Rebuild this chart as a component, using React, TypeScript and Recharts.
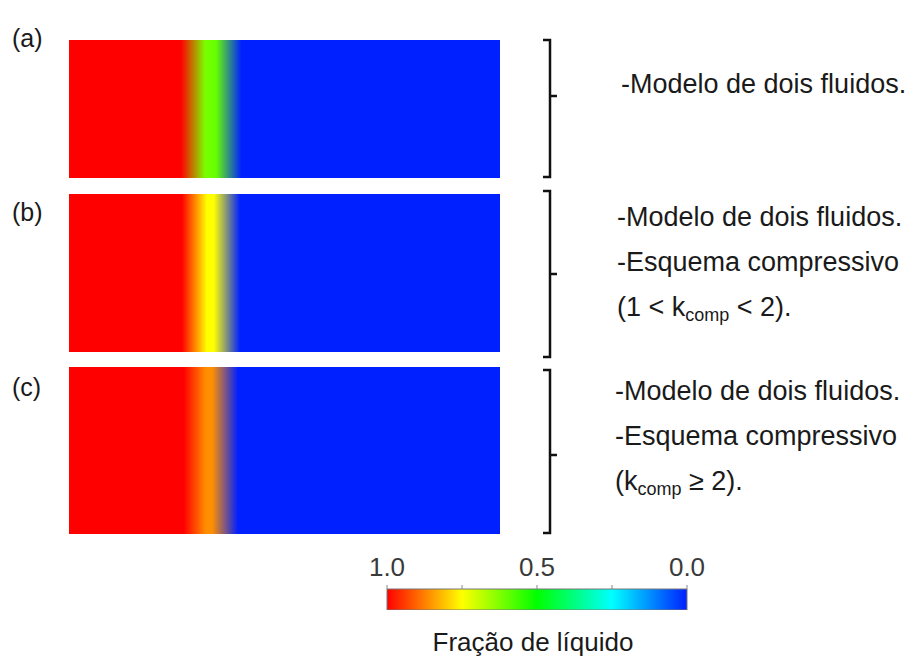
import React from 'react';
import { AreaChart, Area, XAxis, YAxis, ReferenceArea } from 'recharts';

const FONT = '"Liberation Sans", Arial, Helvetica, sans-serif';

// escala de cores da fração de líquido (1.0 = líquido, 0.0 = gás)
const colormapValues = [1.0, 0.75, 0.5, 0.25, 0.0];
const colormapColors = ['#ff0000', '#ffff00', '#00ff00', '#00ffff', '#0020ff'];
const colorbarTicks = [1.0, 0.75, 0.5, 0.25, 0.0];
const colorbarLabeled = [1.0, 0.5, 0.0];

// perfil de fração de líquido ao longo do canal (posição relativa 0..1)
const positionsA = [0, 0.26, 0.316, 0.341, 0.4, 1];
const alphaA = [1, 1, 0.62, 0.6, 0, 0];
const positionsB = [0, 0.262, 0.32, 0.336, 0.397, 1];
const alphaB = [1, 1, 0.75, 0.75, 0, 0];
const positionsC = [0, 0.266, 0.318, 0.332, 0.392, 1];
const alphaC = [1, 1, 0.86, 0.86, 0, 0];

const panelLabels = ['(a)', '(b)', '(c)'];
const notesA = ['-Modelo de dois fluidos.'];
const notesB = ['-Modelo de dois fluidos.', '-Esquema compressivo'];
const notesC = ['-Modelo de dois fluidos.', '-Esquema compressivo'];
const colorbarTitle = 'Fração de líquido';

function hexToRgb(h: string) {
  return [1, 3, 5].map((i) => parseInt(h.slice(i, i + 2), 16));
}

function alphaColor(a: number) {
  // interpola linearmente entre as cores da escala
  for (let i = 0; i < colormapValues.length - 1; i++) {
    const hi = colormapValues[i];
    const lo = colormapValues[i + 1];
    if (a <= hi && a >= lo) {
      const t = (hi - a) / (hi - lo);
      const c1 = hexToRgb(colormapColors[i]);
      const c2 = hexToRgb(colormapColors[i + 1]);
      const c = c1.map((v, k) => Math.round(v + (c2[k] - v) * t));
      return `rgb(${c[0]},${c[1]},${c[2]})`;
    }
  }
  return colormapColors[colormapColors.length - 1];
}

function FieldPanel({ id, positions, alphas, top, height }: any) {
  const data = positions.map((x: number, i: number) => ({ x, alpha: alphas[i], full: 1 }));
  return (
    <div style={{ position: 'absolute', left: 69, top }}>
      <AreaChart width={431} height={height} data={data} margin={{ top: 0, right: 0, bottom: 0, left: 0 }}>
        <defs>
          <linearGradient id={`field-${id}`} x1="0" y1="0" x2="1" y2="0">
            {data.map((d: any, i: number) => (
              <stop key={i} offset={d.x} stopColor={alphaColor(d.alpha)} />
            ))}
          </linearGradient>
        </defs>
        <XAxis dataKey="x" type="number" domain={[0, 1]} hide />
        <YAxis domain={[0, 1]} hide />
        <Area
          dataKey="full"
          type="linear"
          stroke="none"
          fill={`url(#field-${id})`}
          fillOpacity={1}
          dot={false}
          activeDot={false}
          isAnimationActive={false}
        />
      </AreaChart>
    </div>
  );
}

function Colorbar() {
  const data = colormapValues.map((v) => ({ v, full: 1 }));
  return (
    <div style={{ position: 'absolute', left: 337, top: 530 }}>
      <AreaChart width={400} height={80} data={data} margin={{ top: 0, right: 50, bottom: 0, left: 50 }}>
        <defs>
          <linearGradient id="colorbar" x1="0" y1="0" x2="1" y2="0">
            {colormapValues.map((v, i) => (
              <stop key={i} offset={1 - v} stopColor={colormapColors[i]} />
            ))}
          </linearGradient>
        </defs>
        <XAxis
          dataKey="v"
          type="number"
          domain={[0, 1]}
          reversed
          orientation="top"
          height={59}
          ticks={colorbarTicks}
          interval={0}
          tickSize={4}
          tickMargin={9}
          axisLine={false}
          tickLine={{ stroke: '#888', strokeWidth: 1 }}
          tick={{ fill: '#3a3a3a', fontSize: 26, fontFamily: FONT }}
          tickFormatter={(v: number) => (colorbarLabeled.includes(v) ? v.toFixed(1) : '')}
        />
        <YAxis domain={[0, 1]} hide />
        <Area
          dataKey="full"
          type="linear"
          stroke="none"
          fill="url(#colorbar)"
          fillOpacity={1}
          dot={false}
          activeDot={false}
          isAnimationActive={false}
        />
        <ReferenceArea x1={1} x2={0} y1={0} y2={1} fill="none" stroke="#777" strokeWidth={1} />
      </AreaChart>
    </div>
  );
}

function Brace({ top, bottom, mid }: { top: number; bottom: number; mid: number }) {
  return (
    <path
      d={`M543,${top} H550 V${bottom} H543 M550,${mid} H557`}
      fill="none"
      stroke="#111"
      strokeWidth={2.5}
    />
  );
}

export default function App() {
  const textStyle = { fontFamily: FONT, fontSize: 27, fill: '#1a1a1a' };
  const labelStyle = { fontFamily: FONT, fontSize: 25, fill: '#1a1a1a' };
  return (
    <div style={{ position: 'absolute', left: 0, top: 0, width: 909, height: 656, background: '#fff' }}>
      <FieldPanel id="a" positions={positionsA} alphas={alphaA} top={40} height={138} />
      <FieldPanel id="b" positions={positionsB} alphas={alphaB} top={194} height={158} />
      <FieldPanel id="c" positions={positionsC} alphas={alphaC} top={367} height={167} />
      <Colorbar />
      <svg width={909} height={656} style={{ position: 'absolute', left: 0, top: 0, pointerEvents: 'none' }}>
        <text x={12} y={47} style={labelStyle}>{panelLabels[0]}</text>
        <text x={12} y={221} style={labelStyle}>{panelLabels[1]}</text>
        <text x={12} y={396} style={labelStyle}>{panelLabels[2]}</text>

        <Brace top={40} bottom={177} mid={96} />
        <Brace top={191} bottom={357} mid={274} />
        <Brace top={370} bottom={533} mid={455} />

        {notesA.map((t, i) => (
          <text key={`a${i}`} x={621} y={93 + i * 45} style={textStyle}>{t}</text>
        ))}
        {notesB.map((t, i) => (
          <text key={`b${i}`} x={617} y={226 + i * 45} style={textStyle}>{t}</text>
        ))}
        <text x={617} y={316} style={textStyle}>
          <tspan>(1 &lt; k</tspan>
          <tspan fontSize={18} dy={5}>comp</tspan>
          <tspan dy={-5}> &lt; 2).</tspan>
        </text>
        {notesC.map((t, i) => (
          <text key={`c${i}`} x={615} y={400 + i * 45} style={textStyle}>{t}</text>
        ))}
        <text x={615} y={490} style={textStyle}>
          <tspan>(k</tspan>
          <tspan fontSize={18} dy={5}>comp</tspan>
          <tspan dy={-5}> ≥ 2).</tspan>
        </text>

        <text x={533} y={651} textAnchor="middle" style={{ fontFamily: FONT, fontSize: 26 }} fill="#1a1a1a">
          {colorbarTitle}
        </text>
      </svg>
    </div>
  );
}
